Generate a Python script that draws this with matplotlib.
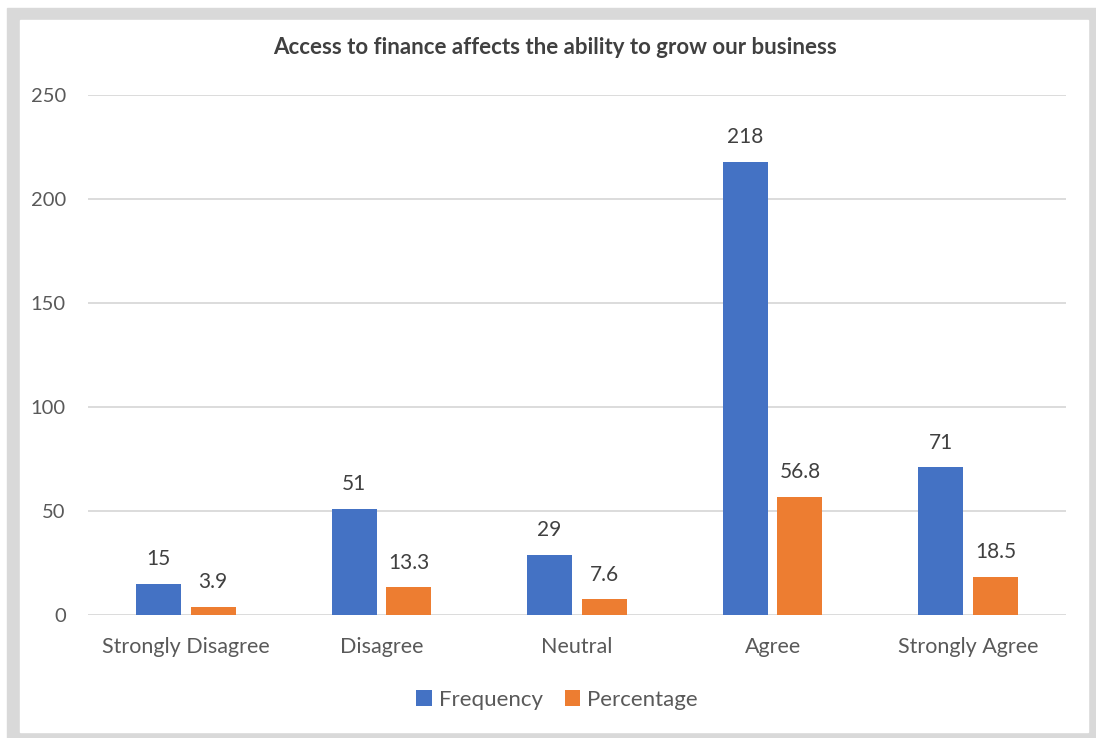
import numpy as np
import matplotlib.pyplot as plt
from matplotlib.patches import Rectangle

categories = ["Strongly Disagree", "Disagree", "Neutral", "Agree", "Strongly Agree"]
frequency = [15, 51, 29, 218, 71]
percentage = [3.9, 13.3, 7.6, 56.8, 18.5]
freq_labels = ["15", "51", "29", "218", "71"]
pct_labels = ["3.9", "13.3", "7.6", "56.8", "18.5"]

plt.rcParams['font.family'] = ['Lato', 'DejaVu Sans']
text_col = '#595959'
grid_col = '#d9d9d9'
blue = '#4472c4'
orange = '#ed7d31'

W, H = 1096, 738
fig = plt.figure(figsize=(W / 100, H / 100), dpi=100)

# grey frame around the chart
fig.patches.append(Rectangle((7 / W, 0), (W - 7) / W, (H - 8) / H,
                             transform=fig.transFigure, color=grid_col, zorder=-2))
fig.patches.append(Rectangle((20 / W, (H - 732) / H), (1088 - 20) / W, (732 - 20) / H,
                             transform=fig.transFigure, color='white', zorder=-1))

ax = fig.add_axes([88 / W, (H - 615) / H, (1066 - 88) / W, (615 - 95) / H])
ax.set_zorder(2)
ax.set_facecolor('none')

x = np.arange(len(categories))
w = 0.23
off = 0.14
b1 = ax.bar(x - off, frequency, w, color=blue, label='Frequency', zorder=3)
b2 = ax.bar(x + off, percentage, w, color=orange, label='Percentage', zorder=3)

for bar, lab in zip(b1, freq_labels):
    ax.text(bar.get_x() + bar.get_width() / 2, bar.get_height() + 7, lab,
            ha='center', va='bottom', fontsize=15, color='#404040')
for bar, lab in zip(b2, pct_labels):
    ax.text(bar.get_x() + bar.get_width() / 2, bar.get_height() + 7, lab,
            ha='center', va='bottom', fontsize=15, color='#404040')

ax.set_xlim(-0.5, len(categories) - 0.5)
ax.set_ylim(0, 250)
ax.set_yticks(range(0, 251, 50))
ax.set_xticks(x)
ax.set_xticklabels(categories)
ax.tick_params(axis='both', length=0, colors=text_col)
ax.tick_params(axis='y', pad=16, labelsize=14.5)
ax.tick_params(axis='x', pad=16, labelsize=15.5)
ax.grid(axis='y', color=grid_col, linewidth=1.3, zorder=0)
for s in ax.spines.values():
    s.set_visible(False)

fig.text(555 / W, 1 - 48 / H, "Access to finance affects the ability to grow our business",
         ha='center', va='center', fontsize=16, fontweight='bold', color='#404040')

fig.legend(handles=[b1, b2], loc='center', bbox_to_anchor=(557 / W, 1 - 700 / H), ncol=2,
           frameon=False, fontsize=16, labelcolor=text_col, handlelength=0.7,
           handleheight=0.7, handletextpad=0.3, columnspacing=1.0)

fig.savefig('out.png', dpi=100)
